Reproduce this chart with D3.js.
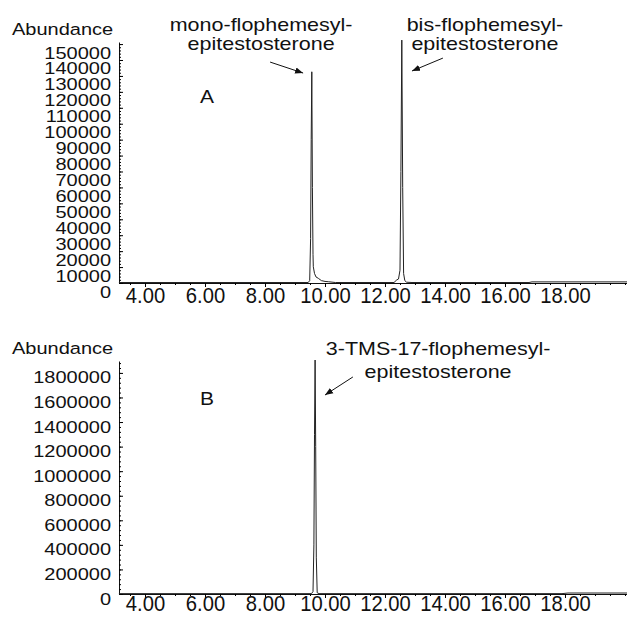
<!DOCTYPE html>
<html>
<head>
<meta charset="utf-8">
<script src="https://cdn.jsdelivr.net/npm/d3@7"></script>
<style>
  body { margin: 0; background: #fff; }
  svg text { font-family: "Liberation Sans", Arial, Helvetica, sans-serif; fill: #111; }
</style>
</head>
<body>
<svg id="chart"></svg>
<script>
// retention time (min) and abundance
const timeA  = [3.13, 6.0, 9.0, 9.44, 9.49, 9.52, 9.54, 9.56, 9.58, 9.60, 9.61, 9.65, 9.70, 9.78, 9.88, 10.0, 10.11, 10.35,
                12.30, 12.39, 12.45, 12.50, 12.53, 12.56, 12.59, 12.62, 12.66, 12.72, 12.90, 16.80, 16.90, 20.07];
const abundA = [300, 300, 300, 300, 1500, 28000, 90000, 132600, 60000, 18000, 10200, 6000, 3800, 2900, 1500, 1000, 800, 300,
                300, 1900, 2500, 8000, 70000, 152500, 60000, 6000, 1500, 500, 300, 300, 700, 700];

const timeB  = [3.13, 6.0, 9.0, 9.55, 9.60, 9.63, 9.65, 9.67, 9.69, 9.71, 9.74, 9.80, 17.9, 18.1, 20.07];
const abundB = [3000, 3000, 3000, 3000, 20000, 400000, 1300000, 1905000, 1200000, 300000, 10000, 3000, 3000, 8000, 8000];

const xTicks = [4, 6, 8, 10, 12, 14, 16, 18];
const yTicksA = [0, 10000, 20000, 30000, 40000, 50000, 60000, 70000, 80000, 90000, 100000,
                 110000, 120000, 130000, 140000, 150000];
const yTicksB = [0, 200000, 400000, 600000, 800000, 1000000, 1200000, 1400000, 1600000, 1800000];

// annotations in data units: text lines, label centre time, arrow tail/tip
const annotA = [
  { lines: ["mono-flophemesyl-", "epitestosterone"], t: 7.87, tail: [8.17, 138700], tip: [9.27, 131800] },
  { lines: ["bis-flophemesyl-", "epitestosterone"],  t: 15.33, tail: [13.93, 141200], tip: [12.90, 133100] }
];
const annotB = [
  { lines: ["3-TMS-17-flophemesyl-", "epitestosterone"], t: 13.77, tail: [10.93, 1767000], tip: [10.0, 1620000] }
];

const width = 627, height = 621;
const svg = d3.select("#chart").attr("width", width).attr("height", height);

svg.append("defs").append("marker")
    .attr("id", "arrow")
    .attr("viewBox", "0 0 10 10")
    .attr("refX", 10).attr("refY", 5)
    .attr("markerWidth", 8).attr("markerHeight", 8)
    .attr("markerUnits", "userSpaceOnUse")
    .attr("orient", "auto")
  .append("path")
    .attr("d", "M0,1 L10,5 L0,9 Z")
    .attr("fill", "#111");

const x = d3.scaleLinear().domain([3.133, 20.067]).range([119, 627]);

// helper for the vertically squashed lettering of the original
function label(g, str, px, py, anchor, size) {
  return g.append("text")
      .attr("transform", `translate(${px},${py}) scale(1,0.86)`)
      .attr("text-anchor", anchor || "start")
      .style("font-size", (size || 20) + "px")
      .text(str);
}

function drawPanel(cfg) {
  const g = svg.append("g");
  const y = d3.scaleLinear().domain(cfg.yDomain).range(cfg.yRange);
  const base = cfg.yRange[0];

  // x axis
  const xAxis = d3.axisBottom(x).tickValues(xTicks).tickSize(4).tickSizeOuter(0)
      .tickFormat(d3.format(".2f"));
  const xg = g.append("g").attr("transform", `translate(0,${base})`).call(xAxis);
  xg.select(".domain").attr("stroke", "#111");
  xg.selectAll("text")
      .attr("y", null).attr("dy", null)
      .attr("transform", `translate(0,${cfg.xLabelOff}) scale(0.92,1)`)
      .style("font-size", "22px").attr("fill", "#111");

  const xMinor = d3.axisBottom(x).tickValues(d3.range(3.5, 20.01, 0.5)).tickSize(2).tickFormat("");
  g.append("g").attr("transform", `translate(0,${base})`).call(xMinor)
      .select(".domain").remove();

  // y axis, ticks pointing into the plot
  const yAxis = d3.axisLeft(y).tickValues(cfg.yTicks).tickSize(-4).tickSizeOuter(0).tickPadding(8)
      .tickFormat(d3.format("d"));
  const yg = g.append("g").attr("transform", "translate(119,0)").call(yAxis);
  yg.select(".domain").attr("stroke", "#111");
  yg.selectAll("text")
      .attr("dy", null)
      .attr("transform", `translate(0,${cfg.yLabelOff + 6}) scale(1,0.86)`)
      .style("font-size", "20px").attr("fill", "#111");

  const yMinor = d3.axisLeft(y).tickValues(d3.range(0, cfg.yDomain[1], cfg.yMinorStep)).tickSize(-2).tickFormat("");
  g.append("g").attr("transform", "translate(119,0)").call(yMinor)
      .select(".domain").remove();

  label(g, "Abundance", 12, cfg.yRange[1] - 7);

  // trace
  const pts = cfg.time.map((t, i) => [t, cfg.abund[i]]);
  const line = d3.line().x(d => x(d[0])).y(d => y(d[1]));
  g.append("path")
      .datum(pts)
      .attr("fill", "none")
      .attr("stroke", "#222")
      .attr("stroke-width", 1)
      .attr("stroke-linejoin", "round")
      .attr("d", line);

  // panel letter
  label(g, cfg.letter, x(5.83), y(cfg.letterValue), "start", 21);

  // annotations
  cfg.annot.forEach(a => {
    a.lines.forEach((s, i) => {
      label(g, s, x(a.t), cfg.annotY[i], "middle", 21.5);
    });
    g.append("line")
        .attr("x1", x(a.tail[0])).attr("y1", y(a.tail[1]))
        .attr("x2", x(a.tip[0])).attr("y2", y(a.tip[1]))
        .attr("stroke", "#111").attr("stroke-width", 1)
        .attr("marker-end", "url(#arrow)");
  });
}

drawPanel({
  time: timeA, abund: abundA,
  yDomain: [0, 151300], yRange: [283, 42], yTicks: yTicksA, yMinorStep: 2000,
  yLabelOff: 8, xLabelOff: 20,
  letter: "A", letterValue: 113000,
  annot: annotA, annotY: [31, 50]
});

drawPanel({
  time: timeB, abund: abundB,
  yDomain: [0, 1897000], yRange: [594, 361], yTicks: yTicksB, yMinorStep: 40000,
  yLabelOff: 4, xLabelOff: 17,
  letter: "B", letterValue: 1539000,
  annot: annotB, annotY: [355, 378]
});
</script>
</body>
</html>
